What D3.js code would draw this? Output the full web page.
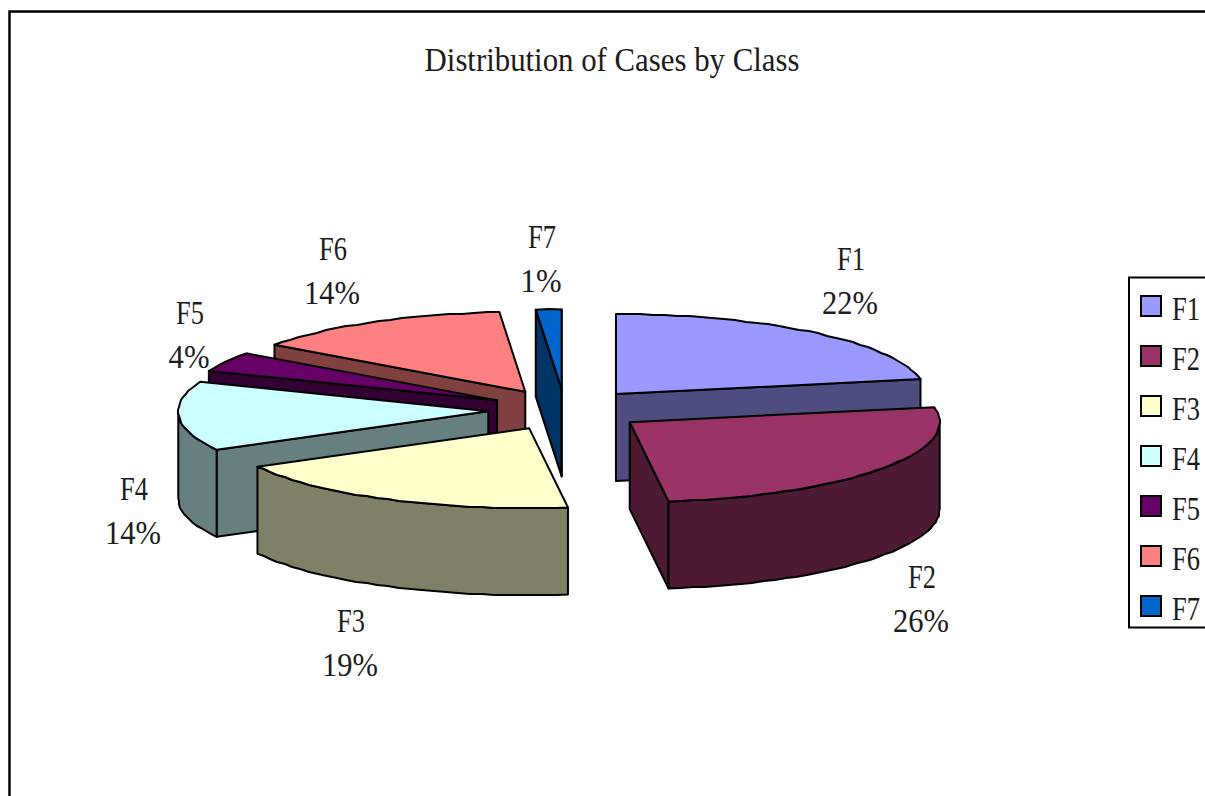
<!DOCTYPE html>
<html>
<head>
<meta charset="utf-8">
<style>
  html, body { margin: 0; padding: 0; background: #fff; overflow: hidden; }
  svg { display: block; }
  text { font-family: "Liberation Serif", serif; fill: #1c1c1c; }
</style>
<script src="https://cdn.jsdelivr.net/npm/d3@7"></script>
</head>
<body>
<div id="chart"></div>
<script>
// chart values
var classes = ["F1", "F2", "F3", "F4", "F5", "F6", "F7"];
var shares = [22, 26, 19, 14, 4, 13.67, 1.33];
var shareLabels = ["22%", "26%", "19%", "14%", "4%", "14%", "1%"];
var topColors = ["#9999FF", "#993366", "#FFFFCC", "#CCFFFF", "#660066", "#FF8080", "#0066CC"];
var sideColors = ["#4D4D80", "#4D1A33", "#808066", "#668080", "#330033", "#804040", "#003366"];

// how far each slice is pulled out, in pie radii
var explode = [0.258, 0.258, 0.255, 0.248, 0.25, 0.261, 0.258];
// label centres (name line)
var labelX = [851, 922, 351, 134, 190, 333, 542];
var labelY = [270, 588, 632, 500, 324, 260, 248];

var w = 1205;
var h = 796;
var depth = 87;
var fontSize = 34;

var svg = d3.select("#chart")
    .append("svg")
    .attr("width", w)
    .attr("height", h);

// unit circle -> flattened screen position
var xPos = d3.scaleLinear().domain([-1, 1]).range([565 - 310, 565 + 310]);
var yPos = d3.scaleLinear().domain([-1, 1]).range([410 - 80, 410 + 80]);

var pie = d3.pie().sort(null).value(function (d) { return d; });
var slices = pie(shares);

function apex(d, i) {
    var mid = (d.startAngle + d.endAngle) / 2;
    return [Math.sin(mid) * explode[i], -Math.cos(mid) * explode[i]];
}

function rim(d, i, a) {
    var c = apex(d, i);
    return [xPos(c[0] + Math.sin(a)), yPos(c[1] - Math.cos(a))];
}

// sample the rim and snap it to pixels, the original edge is slightly rough
function rimPoints(d, i, a0, a1) {
    var n = Math.max(1, Math.round((a1 - a0) / 0.04));
    var pts = d3.range(n + 1).map(function (k) {
        var p = rim(d, i, a0 + (a1 - a0) * k / n);
        if (k > 0 && k < n) {
            p = [Math.round(p[0]), Math.round(p[1])];
        }
        return p;
    });
    return pts;
}

var pathLine = d3.line();
function closedPath(pts) { return pathLine(pts) + "Z"; }

function down(pts) {
    return pts.map(function (p) { return [p[0], p[1] + depth]; });
}

// back to front
var order = [6, 5, 4, 3, 2, 0, 1];
var HALF = Math.PI / 2;

var groups = svg.selectAll("g.slice")
    .data(order)
    .enter()
    .append("g")
    .attr("class", "slice")
    .attr("stroke", "#000")
    .attr("stroke-width", 2)
    .attr("stroke-linejoin", "round");

groups.each(function (i) {
    var d = slices[i];
    var g = d3.select(this);
    var c = apex(d, i);
    var centre = [xPos(c[0]), yPos(c[1])];

    // flat wall along the start edge, only if it faces the viewer
    if (Math.sin(d.startAngle) < 0) {
        var s = [centre, rim(d, i, d.startAngle)];
        g.append("path")
            .attr("fill", sideColors[i])
            .attr("d", closedPath(s.concat(down(s).reverse())));
    }
    // flat wall along the end edge
    if (Math.sin(d.endAngle) > 0) {
        var e = [centre, rim(d, i, d.endAngle)];
        g.append("path")
            .attr("fill", sideColors[i])
            .attr("d", closedPath(e.concat(down(e).reverse())));
    }
    // curved wall, front half only
    var a0 = Math.max(d.startAngle, HALF);
    var a1 = Math.min(d.endAngle, 3 * HALF);
    if (a1 > a0) {
        var r = rimPoints(d, i, a0, a1);
        g.append("path")
            .attr("fill", sideColors[i])
            .attr("d", closedPath(r.concat(down(r).reverse())));
    }
    // top face
    g.append("path")
        .attr("fill", topColors[i])
        .attr("d", closedPath([centre].concat(rimPoints(d, i, d.startAngle, d.endAngle))));
});

// squeezed serif text, the chart font is narrower than Liberation Serif
function addText(sel, txt, tx, ty, size, width, anchor) {
    var t = sel.append("text")
        .attr("font-size", size)
        .attr("text-anchor", anchor || "middle")
        .text(txt);
    var sx = width / t.node().getComputedTextLength();
    t.attr("transform", "translate(" + tx + "," + ty + ") scale(" + sx + ",1)");
    return t;
}

addText(svg, "Distribution of Cases by Class", 612, 71, fontSize, 375);

classes.forEach(function (name, i) {
    addText(svg, name, labelX[i], labelY[i], fontSize, 28);
    addText(svg, shareLabels[i], labelX[i] - 1, labelY[i] + 44, fontSize, shareLabels[i].length === 3 ? 56 : 41);
});

// outer frame runs off the picture on the right and bottom
svg.append("rect")
    .attr("x", 9.5)
    .attr("y", 11.5)
    .attr("width", w + 40)
    .attr("height", h + 40)
    .attr("fill", "none")
    .attr("stroke", "#000")
    .attr("stroke-width", 2.5);

// legend
svg.append("rect")
    .attr("x", 1129)
    .attr("y", 277.5)
    .attr("width", 120)
    .attr("height", 350)
    .attr("fill", "#fff")
    .attr("stroke", "#000")
    .attr("stroke-width", 2);

var legendY = d3.scalePoint().domain(classes).range([296, 596]);

var legend = svg.selectAll("g.legend")
    .data(classes)
    .enter()
    .append("g")
    .attr("class", "legend")
    .attr("transform", function (d) { return "translate(1141," + legendY(d) + ")"; });

legend.append("rect")
    .attr("width", 20)
    .attr("height", 20)
    .attr("fill", function (d, i) { return topColors[i]; })
    .attr("stroke", "#000")
    .attr("stroke-width", 2);

legend.each(function (d) {
    addText(d3.select(this), d, 31, 24, fontSize, 28, "start");
});
</script>
</body>
</html>
